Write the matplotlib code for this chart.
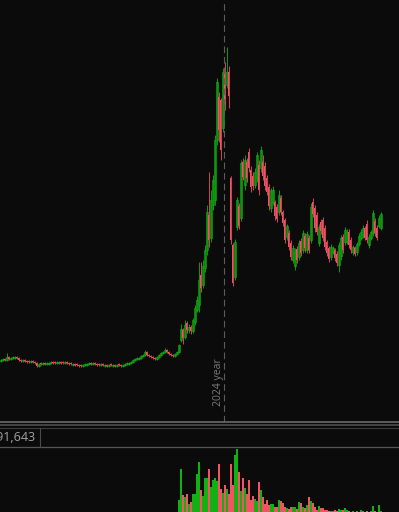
import matplotlib.pyplot as plt
from matplotlib.lines import Line2D
import numpy as np

# candle data, one entry per candle (arbitrary price units)
opens = [63, 64, 65, 64, 67, 65, 66, 66, 67, 66,
         64, 63, 64, 63, 63, 62, 63, 62, 61, 58,
         61, 60, 61, 60, 60, 61, 62, 62, 61, 61,
         62, 62, 61, 62, 61, 61, 59, 60, 60, 59,
         59, 58, 59, 59, 60, 61, 60, 61, 60, 60,
         59, 60, 58, 59, 58, 60, 58, 59, 58, 60,
         59, 58, 59, 60, 60, 61, 62, 64, 65, 65,
         66, 68, 69, 72, 69, 68, 67, 66, 65, 67,
         69, 71, 72, 74, 72, 70, 69, 68, 70, 72,
         84, 94, 87, 101, 94, 97, 93, 102, 114, 119,
         149, 139, 156, 174, 209, 186, 219, 224, 284, 327,
         324, 296, 354, 339, 352, 246, 179, 147, 197, 218,
         206, 262, 239, 262, 272, 254, 248, 239, 246, 259,
         256, 262, 258, 246, 237, 216, 222, 222, 217, 212,
         226, 212, 204, 187, 191, 181, 164, 158, 175, 167,
         183, 174, 188, 174, 186, 184, 222, 216, 209, 181,
         202, 204, 196, 182, 176, 167, 172, 174, 170, 159,
         168, 187, 182, 182, 192, 184, 172, 176, 172, 180,
         186, 189, 196, 200, 179, 186, 191, 203, 196, 198,
         196]
closes = [64, 65, 64, 67, 65, 66, 67, 67, 66, 64,
          63, 64, 63, 62, 62, 63, 62, 61, 58, 60,
          60, 61, 60, 61, 61, 62, 61, 61, 62, 62,
          61, 61, 62, 61, 60, 60, 60, 59, 59, 58,
          58, 59, 60, 60, 61, 60, 61, 60, 59, 59,
          60, 59, 59, 58, 59, 59, 59, 58, 59, 59,
          58, 59, 60, 61, 61, 62, 64, 65, 66, 66,
          68, 69, 72, 69, 68, 67, 66, 65, 67, 69,
          71, 72, 74, 72, 70, 69, 68, 70, 72, 79,
          95, 86, 99, 94, 97, 93, 104, 116, 124, 144,
          136, 158, 174, 212, 184, 224, 244, 284, 342, 294,
          274, 352, 319, 352, 328, 184, 141, 182, 224, 198,
          261, 247, 264, 246, 256, 237, 238, 252, 269, 234,
          274, 248, 238, 232, 218, 234, 234, 208, 205, 229,
          212, 201, 184, 198, 177, 167, 176, 172, 164, 181,
          171, 191, 176, 190, 174, 217, 210, 196, 192, 197,
          193, 186, 177, 171, 165, 177, 176, 166, 161, 179,
          186, 174, 194, 192, 179, 174, 177, 170, 180, 188,
          192, 196, 186, 184, 187, 192, 211, 191, 186, 206,
          210]
highs = [65, 66, 66, 71, 68, 67, 68, 68, 68, 67,
         65, 65, 65, 64, 64, 64, 64, 63, 62, 61,
         62, 62, 62, 62, 62, 63, 63, 63, 63, 63,
         63, 63, 63, 63, 62, 62, 61, 61, 61, 60,
         60, 60, 61, 61, 62, 62, 62, 62, 61, 61,
         61, 61, 60, 60, 60, 61, 60, 60, 60, 61,
         60, 60, 61, 62, 62, 63, 65, 66, 67, 67,
         69, 70, 74, 73, 70, 69, 68, 67, 68, 70,
         72, 73, 76, 75, 73, 71, 70, 71, 73, 80,
         100, 96, 104, 103, 100, 99, 106, 119, 128, 162,
         162, 164, 179, 219, 252, 234, 249, 289, 346, 332,
         326, 356, 362, 377, 358, 248, 181, 185, 227, 221,
         264, 266, 269, 266, 276, 258, 252, 256, 272, 264,
         278, 269, 262, 249, 240, 236, 238, 224, 220, 234,
         229, 214, 206, 200, 194, 184, 179, 176, 178, 184,
         186, 194, 191, 193, 189, 221, 226, 219, 212, 200,
         205, 207, 199, 184, 178, 180, 178, 176, 173, 182,
         189, 190, 197, 195, 195, 187, 179, 178, 182, 191,
         195, 199, 198, 204, 190, 194, 214, 206, 199, 209,
         212]
lows = [62, 63, 63, 63, 64, 64, 65, 65, 65, 63,
        62, 62, 62, 61, 61, 61, 61, 60, 57, 57,
        59, 59, 59, 59, 59, 60, 60, 60, 60, 60,
        60, 60, 60, 60, 59, 59, 58, 58, 58, 57,
        57, 57, 58, 58, 59, 59, 59, 59, 58, 58,
        58, 58, 57, 57, 57, 58, 57, 57, 57, 58,
        57, 57, 58, 59, 59, 60, 61, 63, 64, 64,
        65, 67, 68, 68, 67, 66, 65, 64, 64, 66,
        68, 70, 71, 71, 69, 68, 67, 67, 69, 71,
        82, 80, 85, 91, 91, 90, 91, 99, 112, 112,
        132, 136, 152, 169, 177, 182, 214, 219, 279, 282,
        264, 292, 314, 336, 316, 180, 138, 144, 194, 195,
        203, 244, 234, 242, 252, 232, 234, 236, 242, 229,
        252, 244, 234, 229, 214, 212, 219, 204, 202, 209,
        209, 198, 181, 184, 174, 164, 161, 154, 161, 164,
        168, 171, 172, 171, 171, 181, 207, 192, 189, 178,
        190, 183, 174, 168, 162, 164, 170, 163, 158, 152,
        164, 171, 179, 180, 176, 171, 169, 168, 169, 178,
        184, 186, 184, 181, 176, 184, 188, 188, 184, 196,
        194]

# volume, visible from candle 89 on
volume_start = 89
volumes = [12, 43, 17, 15, 18, 8, 10, 18, 18, 38, 50,
           22, 16, 34, 34, 43, 25, 32, 34, 31, 48,
           23, 19, 27, 23, 18, 48, 27, 57, 63, 40,
           21, 34, 24, 18, 32, 12, 16, 13, 11, 30,
           22, 15, 8, 12, 7, 8, 8, 5, 5, 12,
           11, 9, 5, 4, 3, 5, 5, 5, 3, 10,
           9, 5, 4, 7, 15, 11, 9, 5, 2, 6,
           4, 4, 2, 2, 1, 1, 1, 2, 1, 3,
           2, 2, 4, 2, 1, 0, 1, 0, 1, 0,
           2, 1, 0, 1, 0, 1, 6, 1, 0, 7,
           1]

year_start = 111.5
year_label = '2024 year'
volume_label = '991,643'

BG = '#0b0b0b'
GREEN = '#12b012'
RED = '#f25464'
RED_WICK = '#c84454'

W, H = 399, 512
fig = plt.figure(figsize=(W / 100, H / 100), dpi=100, facecolor=BG)

ax = fig.add_axes([0, 90 / H, 1, 422 / H])
axv = fig.add_axes([0, 0, 1, 66 / H])
for a in (ax, axv):
    a.set_facecolor(BG)
    a.set_axis_off()
    a.set_xlim(-0.5, 199)

o = np.array(opens, float)
c = np.array(closes, float)
hi = np.array(highs, float)
lo = np.array(lows, float)
x = np.arange(len(o))
up = c > o

bottom = np.minimum(o, c)
height = np.maximum(np.abs(c - o), 1.0)

# green (hollow) candles first, red ones on top
ax.vlines(x[up], lo[up], hi[up], color=GREEN, lw=0.6)
ax.bar(x[up], height[up], bottom=bottom[up], width=0.7,
       facecolor=BG, edgecolor=GREEN, linewidth=0.5)
ax.vlines(x[~up], lo[~up], hi[~up], color=RED_WICK, lw=0.75)
ax.bar(x[~up], height[~up], bottom=bottom[~up], width=1.0,
       color=RED, linewidth=0)
ax.set_ylim(2, 424)

ax.axvline(year_start, color='#5c5c5c', lw=0.8, dashes=(6, 3.5))
ax.text(109, 42, year_label, rotation=90, ha='center', va='center',
        fontsize=7.5, color='#7c7c7c', family=['Open Sans', 'DejaVu Sans'])

# volume bars
vx = np.arange(volume_start, volume_start + len(volumes))
vcol = [GREEN if up[i] else RED for i in vx]
axv.bar(vx, volumes, width=0.65, color=vcol, linewidth=0)
axv.set_ylim(0, 66)

# separators between panels
def hline(y, color, lw):
    fig.add_artist(Line2D([0, 1], [1 - y / H, 1 - y / H], color=color, lw=lw,
                          transform=fig.transFigure))

hline(422, '#6a6a6a', 1.2)
hline(424.8, '#4e4e4e', 1.2)
hline(427.8, '#3c3c3c', 0.8)
hline(446.5, '#555555', 0.9)
fig.add_artist(Line2D([40 / W, 40 / W], [1 - 428 / H, 1 - 446.5 / H],
                      color='#4a4a4a', lw=0.8, transform=fig.transFigure))
fig.text(36 / W, 1 - 437.5 / H, volume_label, ha='right', va='center',
         fontsize=9, color='#a2a2a2', family=['Open Sans', 'DejaVu Sans'])

fig.savefig('out.png', dpi=100, facecolor=BG)
